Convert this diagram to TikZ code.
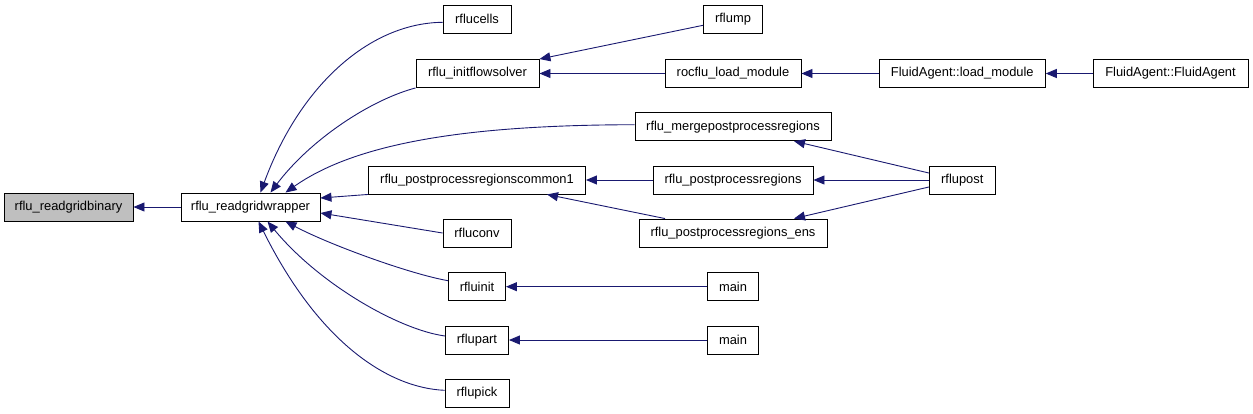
\documentclass[tikz,border=0pt]{standalone}
\usepackage{fontspec}
\setmainfont{Liberation Sans}
\usepackage{xcolor}
\usepackage{tikz}
\usetikzlibrary{arrows.meta}
\definecolor{callblue}{HTML}{191970}

\begin{document}
\begin{tikzpicture}[x=1pt,y=-1pt,font=\fontsize{12.9}{14}\selectfont,>={Triangle[length=11pt,width=9pt]},
 fn/.style={draw,line width=0.9pt,inner sep=0pt,minimum height=28pt},
 call/.style={->,draw=callblue,line width=0.9pt}]
\useasboundingbox (0,0) rectangle (1253,413);
\node[fn,fill=black!25,minimum width=129pt] (bin) at (68.5,207) {rflu\_readgridbinary};
\node[fn,minimum width=139pt] (wrap) at (250.5,207) {rflu\_readgridwrapper};
\node[fn,minimum width=68pt] (cells) at (477,19.3) {rflucells};
\node[fn,minimum width=123pt] (init) at (477.5,73.5) {rflu\_initflowsolver};
\node[fn,minimum width=217pt] (com) at (477,180) {rflu\_postprocessregionscommon1};
\node[fn,minimum width=68pt] (conv) at (477,233) {rfluconv};
\node[fn,minimum width=57pt] (finit) at (477,286.7) {rfluinit};
\node[fn,minimum width=63pt] (part) at (477,340) {rflupart};
\node[fn,minimum width=64pt] (pick) at (477,393.3) {rflupick};
\node[fn,minimum width=59pt] (mp) at (733,19.3) {rflump};
\node[fn,minimum width=136pt] (lmod) at (733,73.5) {rocflu\_load\_module};
\node[fn,minimum width=196pt] (merge) at (733,126.7) {rflu\_mergepostprocessregions};
\node[fn,minimum width=160pt] (regs) at (733,180) {rflu\_postprocessregions};
\node[fn,minimum width=188pt] (ens) at (733,233) {rflu\_postprocessregions\_ens};
\node[fn,minimum width=51pt] (main1) at (733,286.7) {main};
\node[fn,minimum width=51pt] (main2) at (733,340) {main};
\node[fn,minimum width=166pt] (agl) at (962.3,73.5) {FluidAgent::load\_module};
\node[fn,minimum width=66pt] (post) at (962.3,180) {rflupost};
\node[fn,minimum width=155pt] (agent) at (1170.5,73.5) {FluidAgent::FluidAgent};
\foreach \a/\b in {wrap/bin,lmod/init,agl/lmod,agent/agl,regs/com,post/regs,main1/finit,main2/part}
  \draw[call] (\a.west) -- (\b.east);
\draw[call] (com.south west) -- ([yshift=9pt]wrap.east);
\draw[call] (conv.west) -- ([yshift=-6pt]wrap.east);
\draw[call] ([yshift=-6pt]mp.west) -- (init.north east);
\draw[call] ([yshift=7pt]post.west) -- ([xshift=61pt]merge.south);
\draw[call] ([yshift=-7pt]post.west) -- ([xshift=61pt]ens.north);
\draw[call] ([xshift=-68pt]ens.north) -- ([xshift=70pt]com.south);
\draw[call] ([yshift=-3pt]cells.west) .. controls (370,23) and (300,85) .. ([xshift=10pt]wrap.north);
\draw[call] (init.south west) .. controls (370,100) and (310,140) .. ([xshift=20pt]wrap.north);
\draw[call] ([yshift=2pt]merge.west) .. controls (480,125) and (360,140) .. ([xshift=35pt]wrap.north);
\draw[call] ([yshift=6pt]finit.west) .. controls (410,274) and (330,245) .. ([xshift=35pt]wrap.south);
\draw[call] ([yshift=4pt]part.west) .. controls (400,330) and (320,285) .. ([xshift=17pt]wrap.south);
\draw[call] ([yshift=3pt]pick.west) .. controls (390,388) and (320,345) .. ([xshift=8pt]wrap.south);
\end{tikzpicture}
\end{document}
